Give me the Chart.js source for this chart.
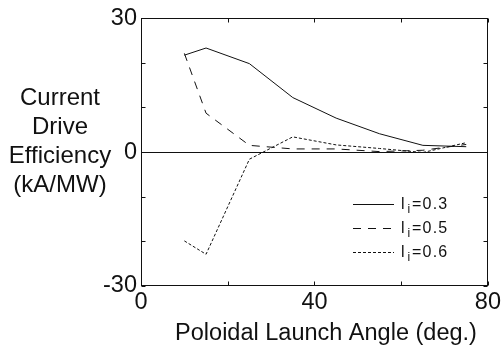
<!DOCTYPE html>
<html>
<head>
<meta charset="utf-8">
<script src="https://cdn.jsdelivr.net/npm/chart.js@4/dist/chart.umd.min.js"></script>
<style>
  html, body { margin: 0; padding: 0; background: #fff; }
  #wrap { width: 503px; height: 351px; position: relative; }
</style>
</head>
<body>
<div id="wrap"><canvas id="cdChart"></canvas></div>
<script>
// ==== DATA ====
const angles = [10, 15, 25, 35, 45, 55, 65, 75];
const li03 = [21.7, 23.3, 19.8, 12.2, 7.6, 4.1, 1.5, 1.2];
const li05 = [22.1, 8.7, 1.5, 0.7, 0.7, 0.1, 0.4, 1.7];
const li06 = [-19.9, -22.9, -1.6, 3.4, 1.6, 0.8, -0.1, 2.1];
const liLabels = ["0.3", "0.5", "0.6"];
const dashes = [[], [8, 7], [3, 2]];
const xTicks = [0, 40, 80];
const yTicks = [-30, 0, 30];
const yTitle = ["Current", "Drive", "Efficiency", "(kA/MW)"];
const xTitle = "Poloidal Launch Angle (deg.)";

const FONT = "'Liberation Sans', Arial, sans-serif";
const INK = "#111";

function pts(vals) {
  return angles.map((a, i) => ({ x: a, y: vals[i] }));
}

// frame, inward ticks, axis titles, legend
const decor = {
  id: "decor",
  afterDraw(chart) {
    const ctx = chart.ctx;
    const a = chart.chartArea;
    const L = Math.round(a.left) + 0.5, R = Math.round(a.right) - 0.5;
    const T = Math.round(a.top) + 0.5, B = Math.round(a.bottom) - 0.5;
    ctx.save();
    ctx.strokeStyle = INK;
    ctx.lineWidth = 1;
    ctx.strokeRect(L, T, R - L, B - T);

    // inward tick marks on all four sides
    const tl = 4;
    ctx.beginPath();
    chart.scales.x.ticks.forEach(t => {
      const px = Math.round(chart.scales.x.getPixelForValue(t.value)) + 0.5;
      ctx.moveTo(px, B); ctx.lineTo(px, B - tl);
      ctx.moveTo(px, T); ctx.lineTo(px, T + tl);
    });
    chart.scales.y.ticks.forEach(t => {
      const py = Math.round(chart.scales.y.getPixelForValue(t.value)) + 0.5;
      ctx.moveTo(L, py); ctx.lineTo(L + tl, py);
      ctx.moveTo(R, py); ctx.lineTo(R - tl, py);
    });
    ctx.stroke();

    // titles
    ctx.fillStyle = INK;
    ctx.textAlign = "center";
    ctx.textBaseline = "middle";
    ctx.font = "24px " + FONT;
    yTitle.forEach((s, i) => ctx.fillText(s, 60, 98 + i * 29));
    ctx.font = "23.5px " + FONT;
    ctx.fillText(xTitle, 326, 334);

    // legend
    chart.data.datasets.forEach((ds, i) => {
      const y = Math.round(204 + i * 24) + 0.5;
      ctx.beginPath();
      ctx.setLineDash(ds.borderDash);
      ctx.moveTo(353, y); ctx.lineTo(394, y);
      ctx.stroke();
      ctx.setLineDash([]);
      ctx.textAlign = "left";
      ctx.textBaseline = "middle";
      ctx.font = "16px " + FONT;
      ctx.fillText("l", 401, y);
      ctx.font = "12px " + FONT;
      ctx.fillText("i", 407.5, y + 5);
      ctx.font = "16px " + FONT;
      ctx.letterSpacing = "1.2px";
      ctx.fillText("=" + liLabels[i], 412, y);
      ctx.letterSpacing = "0px";
    });
    ctx.restore();
  }
};

new Chart(document.getElementById("cdChart").getContext("2d"), {
  type: "line",
  data: {
    datasets: [li03, li05, li06].map((vals, i) => ({
      label: "li=" + liLabels[i],
      data: pts(vals),
      borderColor: INK,
      borderWidth: 1,
      borderDash: dashes[i],
      pointRadius: 0,
      tension: 0,
      fill: false,
    })),
  },
  options: {
    responsive: true,
    maintainAspectRatio: false,
    animation: false,
    layout: { padding: { left: 0, top: 16, right: 14, bottom: 0 } },
    plugins: { legend: { display: false }, tooltip: { enabled: false } },
    scales: {
      x: {
        type: "linear",
        min: 0,
        max: 80,
        ticks: {
          stepSize: 20,
          padding: 2,
          color: INK,
          font: { size: 23.5, family: FONT },
          maxRotation: 0,
          callback: v => (xTicks.includes(v) ? v : ""),
        },
        grid: { display: true, drawOnChartArea: false, drawTicks: false },
        border: { display: false },
        afterFit: s => { s.height = 65; },
      },
      y: {
        min: -30,
        max: 30,
        ticks: {
          stepSize: 10,
          padding: 4,
          color: INK,
          font: { size: 23.5, family: FONT },
          callback: v => (yTicks.includes(v) ? v : ""),
        },
        grid: {
          drawTicks: false,
          color: c => (c.tick && c.tick.value === 0 ? INK : "rgba(0,0,0,0)"),
        },
        border: { display: false },
        afterFit: s => { s.width = 141; },
      },
    },
  },
  plugins: [decor],
});
</script>
</body>
</html>
